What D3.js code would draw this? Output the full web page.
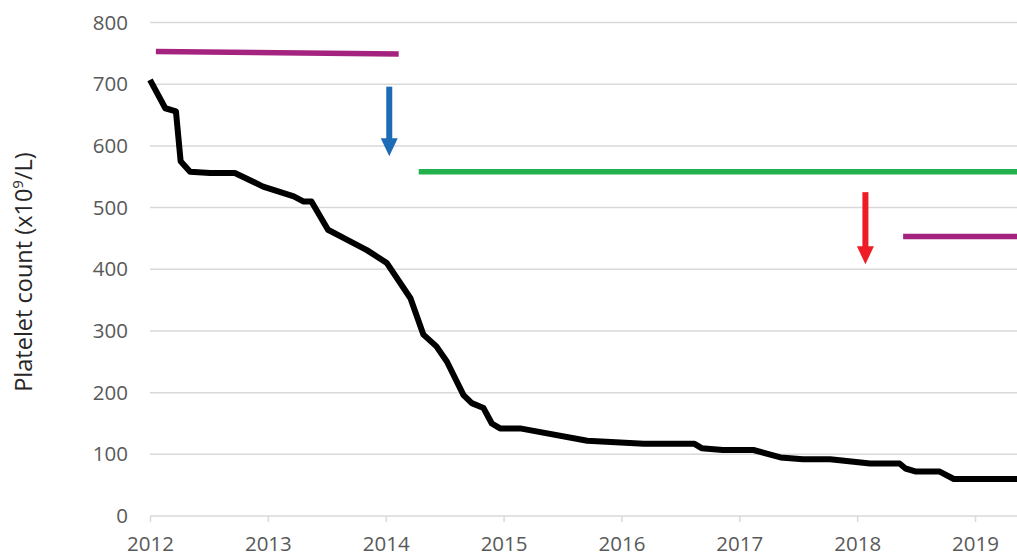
<!DOCTYPE html>
<html>
<head>
<meta charset="utf-8">
<script src="https://cdn.jsdelivr.net/npm/d3@7"></script>
<style>
	body { margin: 0; background: #fff; }
	text { font-family: "Open Sans", sans-serif; }
</style>
</head>
<body>
<svg id="chart" width="1017" height="554"></svg>
<script>
// axis ticks
var yearTicks = [2012, 2013, 2014, 2015, 2016, 2017, 2018, 2019];
var countTicks = [0, 100, 200, 300, 400, 500, 600, 700, 800];

// platelet count over time (decimal year, x10^9/L)
var plateletYear = [2012.00, 2012.13, 2012.22, 2012.26, 2012.34, 2012.51, 2012.72, 2012.96,
	2013.22, 2013.30, 2013.37, 2013.51, 2013.67, 2013.84, 2014.01, 2014.21, 2014.32, 2014.43,
	2014.52, 2014.66, 2014.73, 2014.83, 2014.90, 2014.97, 2015.14, 2015.71, 2016.19, 2016.62,
	2016.68, 2016.86, 2017.12, 2017.35, 2017.54, 2017.77, 2018.11, 2018.36, 2018.41, 2018.50,
	2018.70, 2018.82, 2019.60];
var plateletCount = [707, 661, 656, 575, 558, 556, 556, 534,
	518, 510, 510, 464, 448, 431, 410, 353, 294, 275,
	250, 196, 183, 175, 150, 142, 142, 122, 117, 117,
	110, 107, 107, 95, 92, 92, 85, 85, 77, 72,
	72, 60, 60];

// treatment level bars: start year, end year, level at start, level at end
var barStart = [2012.05, 2014.28, 2018.39];
var barEnd = [2014.11, 2019.60, 2019.60];
var barFrom = [753, 558, 453];
var barTo = [749, 558, 453];
var barColor = ["#a4237e", "#22b14c", "#a4237e"];

// dose reduction arrows: year, top value, tip value
var arrowYear = [2014.03, 2018.07];
var arrowTop = [696, 525];
var arrowTip = [583, 408];
var arrowColor = ["#1f6cb6", "#ee1c24"];

var svg = d3.select("#chart");
var plotLeft = 150, plotBottom = 516, plotTop = 22.5;
var pxPerYear = 117.86;

var x = d3.scaleLinear()
	.domain([2012, 2019.6])
	.range([plotLeft, plotLeft + 7.6 * pxPerYear]);
var y = d3.scaleLinear()
	.domain([0, 800])
	.range([plotBottom, plotTop]);

// gridlines
svg.append("g").selectAll("line")
	.data(countTicks)
	.enter().append("line")
	.attr("x1", plotLeft)
	.attr("x2", 1017)
	.attr("y1", function(d) { return y(d); })
	.attr("y2", function(d) { return y(d); })
	.style("stroke", "#d9d9d9")
	.style("stroke-width", 1.5);

// y axis labels
var yAxis = svg.append("g")
	.attr("transform", "translate(" + plotLeft + ",0)")
	.call(d3.axisLeft(y).tickValues(countTicks).tickSize(0).tickPadding(22));
yAxis.select(".domain").remove();
yAxis.selectAll("text")
	.style("font-size", "20.5px")
	.style("font-family", "'Open Sans', sans-serif")
	.style("fill", "#595959");

// x axis
var xAxis = svg.append("g")
	.attr("transform", "translate(0," + plotBottom + ")")
	.call(d3.axisBottom(x).tickValues(yearTicks).tickFormat(d3.format("d")).tickSize(6).tickPadding(14));
xAxis.select(".domain").remove();
xAxis.selectAll("line")
	.style("stroke", "#d9d9d9")
	.style("stroke-width", 1.5);
xAxis.selectAll("text")
	.style("font-size", "20.5px")
	.style("font-family", "'Open Sans', sans-serif")
	.style("fill", "#595959");

// y axis title
var title = svg.append("text")
	.attr("transform", "translate(32,272) rotate(-90)")
	.attr("text-anchor", "middle")
	.style("font-size", "23.5px")
	.style("fill", "#262626");
title.append("tspan").text("Platelet count (x10");
title.append("tspan").attr("dy", -9).style("font-size", "15px").text("9");
title.append("tspan").attr("dy", 9).text("/L)");

// treatment bars
svg.append("g").selectAll("line")
	.data(barStart)
	.enter().append("line")
	.attr("x1", function(d) { return x(d); })
	.attr("x2", function(d, i) { return x(barEnd[i]); })
	.attr("y1", function(d, i) { return y(barFrom[i]); })
	.attr("y2", function(d, i) { return y(barTo[i]); })
	.style("stroke", function(d, i) { return barColor[i]; })
	.style("stroke-width", 5.5);

// arrows
var arrows = svg.append("g").selectAll("g")
	.data(arrowYear)
	.enter().append("g");
arrows.append("line")
	.attr("x1", function(d) { return x(d); })
	.attr("x2", function(d) { return x(d); })
	.attr("y1", function(d, i) { return y(arrowTop[i]); })
	.attr("y2", function(d, i) { return y(arrowTip[i]) - 16; })
	.style("stroke", function(d, i) { return arrowColor[i]; })
	.style("stroke-width", 6);
arrows.append("path")
	.attr("d", function(d, i) {
		var cx = x(d), ty = y(arrowTip[i]);
		return "M" + (cx - 8.5) + "," + (ty - 18) + "L" + (cx + 8.5) + "," + (ty - 18) + "L" + cx + "," + ty + "Z";
	})
	.style("fill", function(d, i) { return arrowColor[i]; });

// platelet line
var lineData = plateletYear.map(function(d, i) { return [d, plateletCount[i]]; });
svg.append("path")
	.datum(lineData)
	.attr("d", d3.line()
		.x(function(d) { return x(d[0]); })
		.y(function(d) { return y(d[1]); }))
	.style("fill", "none")
	.style("stroke", "#000")
	.style("stroke-width", 6)
	.style("stroke-linejoin", "round");
</script>
</body>
</html>
